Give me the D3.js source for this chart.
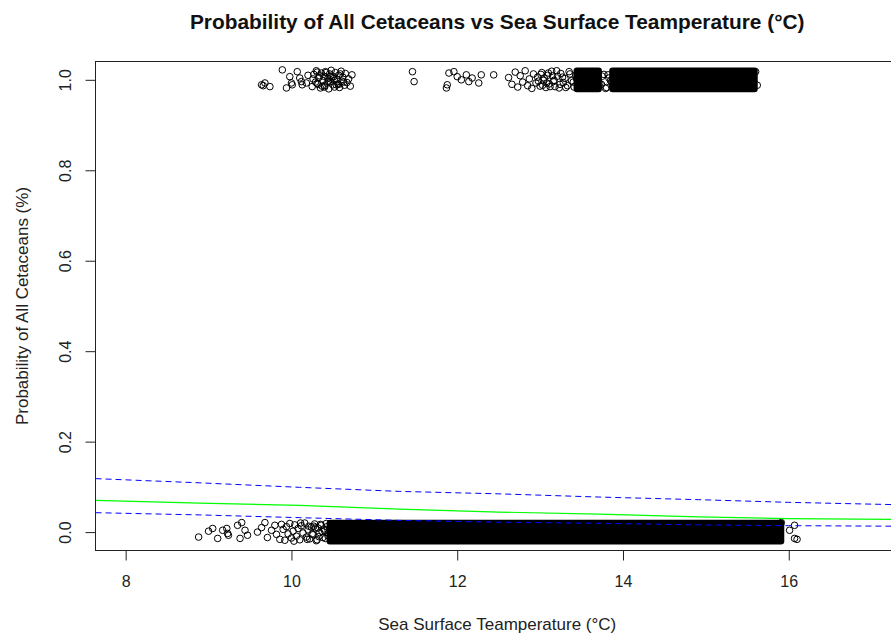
<!DOCTYPE html>
<html>
<head>
<meta charset="utf-8">
<script src="https://cdn.jsdelivr.net/npm/d3@7"></script>
<style>
  body { margin: 0; background: #fff; }
  text { font-family: "Liberation Sans", Arial, sans-serif; }
</style>
</head>
<body>
<div id="chart"></div>
<script>
// axis ticks
var sstTicks = [8, 10, 12, 14, 16];
var probTicks = [0, 0.2, 0.4, 0.6, 0.8, 1.0];

// sightings at 1 (presence), jittered values
var presenceSst = [9.64, 9.66, 9.68, 9.74,
  9.89, 9.94, 9.98, 10.00, 10.01, 10.07, 10.10, 10.12, 10.13, 10.18, 10.20,
  10.25, 10.27, 10.29, 10.30, 10.32, 10.33, 10.35, 10.36, 10.38, 10.39, 10.40, 10.41,
  10.43, 10.44, 10.45, 10.46, 10.47, 10.48, 10.50, 10.51, 10.52, 10.53, 10.55, 10.56,
  10.57, 10.58, 10.60, 10.61, 10.62, 10.64, 10.65, 10.67, 10.69, 10.71, 10.73,
  10.26, 10.31, 10.34, 10.37, 10.42, 10.45, 10.49, 10.54, 10.59, 10.63, 10.31, 10.40,
  10.47, 10.52, 10.57,
  11.46, 11.48,
  11.87, 11.88, 11.90, 11.96, 12.00, 12.05, 12.11, 12.14, 12.18, 12.26, 12.29, 12.44,
  12.62, 12.66, 12.70, 12.73, 12.76, 12.79, 12.82, 12.85, 12.87, 12.90, 12.92, 12.95,
  12.97, 13.00, 13.02, 13.04, 13.07, 13.09, 13.11, 13.14, 13.16, 13.18, 13.21, 13.23,
  13.25, 13.28, 13.30, 13.33, 13.35, 13.38, 13.41, 13.43,
  12.98, 13.01, 13.03, 13.05, 13.08, 13.10, 13.12, 13.15, 13.17, 13.20, 13.24, 13.27,
  13.31, 13.36, 13.40, 13.44, 13.47, 13.70, 13.72, 13.75, 13.79, 13.82, 13.85, 13.88,
  13.74, 13.77, 13.80, 13.83, 13.86, 15.60, 15.62];
var presenceProb = [0.989, 0.987, 0.993, 0.985,
  1.022, 0.982, 1.007, 0.993, 0.989, 1.018, 1.004, 0.996, 0.989, 0.993, 1.010,
  0.985, 1.012, 0.995, 1.020, 0.990, 1.005, 0.982, 1.015, 0.998, 1.008, 0.987, 1.018,
  0.993, 1.003, 0.980, 1.013, 0.996, 1.021, 0.989, 1.007, 0.984, 1.016, 1.000, 0.991,
  1.010, 0.983, 1.019, 0.997, 1.006, 0.988, 1.014, 0.994, 1.002, 0.986, 1.011,
  1.002, 0.992, 1.009, 0.986, 1.016, 0.997, 1.006, 0.989, 1.013, 0.995, 1.017, 0.984,
  1.008, 0.999, 0.990,
  1.018, 0.996,
  0.982, 0.989, 1.015, 1.018, 1.007, 1.000, 1.011, 0.996, 1.004, 0.993, 1.011, 1.011,
  1.005, 0.990, 1.017, 0.984, 1.009, 0.995, 1.020, 0.987, 1.002, 0.981, 1.013, 0.993,
  1.006, 0.986, 1.016, 0.999, 0.983, 1.010, 0.991, 1.019, 0.996, 0.985, 1.008, 0.982,
  1.014, 0.994, 1.003, 0.987, 1.018, 0.998, 0.984, 1.011,
  0.997, 1.012, 0.988, 1.004, 0.993, 1.015, 0.985, 1.009, 0.999, 1.020, 0.990, 1.006,
  0.983, 1.013, 0.995, 1.002, 0.987, 1.016, 0.992, 1.008, 0.981, 1.011, 0.998, 1.005,
  0.990, 1.012, 0.983, 1.004, 0.995, 1.018, 0.988];

// non-sightings at 0 (absence)
var absenceSst = [8.88, 9.00, 9.05, 9.11, 9.17, 9.22, 9.23, 9.24, 9.35, 9.38, 9.40, 9.44, 9.47,
  9.59, 9.64, 9.68, 9.71, 9.76, 9.80, 9.82, 9.86, 9.88,
  9.90, 9.92, 9.94, 9.96, 9.98, 10.00, 10.02, 10.04, 10.06, 10.08, 10.10, 10.12, 10.14,
  10.16, 10.18, 10.20, 10.22, 10.24, 10.26, 10.28, 10.30, 10.32, 10.34, 10.36, 10.38,
  10.40, 10.42, 10.44, 10.03, 10.11, 10.19, 10.27, 10.33, 10.39,
  10.21, 10.25, 10.29, 10.31, 10.35, 10.37, 10.41, 10.43, 10.45,
  15.91, 16.01, 16.07, 16.07, 16.10];
var absenceProb = [-0.011, 0.002, 0.008, -0.014, 0.004, 0.008, -0.003, -0.007, 0.015, -0.014, 0.021, 0.004, -0.007,
  0.000, 0.010, 0.021, -0.012, 0.004, 0.015, -0.005, -0.016, 0.017,
  0.006, -0.018, 0.012, -0.004, 0.019, -0.013, 0.002, 0.016, -0.009, 0.008, -0.017, 0.014,
  -0.002, 0.020, -0.011, 0.005, -0.015, 0.011, -0.006, 0.018, -0.019, 0.009, -0.001, 0.015,
  -0.012, 0.003, 0.019, -0.008, -0.020, 0.020, -0.016, 0.013, -0.010, 0.007,
  0.013, -0.004, 0.009, -0.017, 0.017, 0.001, -0.014, 0.012, -0.003,
  0.021, 0.004, 0.015, -0.014, -0.016];

// stretches where the circles overlap into a solid block
var denseFrom = [10.47, 13.45, 13.88];
var denseTo = [15.90, 13.70, 15.58];
var denseRow = [0, 1, 1];
var jitterHalf = 0.019;

// fitted model and 95% band
var curveSst = [7.637, 8.894, 10.097, 11.3, 12.5, 13.708, 14.912, 15.995, 17.33];
var fitProb = [0.0702, 0.0642, 0.0589, 0.0507, 0.0443, 0.0396, 0.0336, 0.0297, 0.0279];
var upperProb = [0.1182, 0.1089, 0.0990, 0.0900, 0.0846, 0.0775, 0.0717, 0.0658, 0.0605];
var lowerProb = [0.0429, 0.0380, 0.0319, 0.0259, 0.0219, 0.0195, 0.0159, 0.0142, 0.0130];

var width = 891, height = 635;
var plot = {left: 95.5, right: 899, top: 61.5, bottom: 550.5};
var r = 3.3;

var svg = d3.select("#chart").append("svg")
  .attr("width", width)
  .attr("height", height);

var x = d3.scaleLinear()
  .domain([7.636, 17.33])
  .range([plot.left, plot.right]);

var y = d3.scaleLinear()
  .domain([-0.0407, 1.0405])
  .range([plot.bottom, plot.top]);

svg.append("clipPath")
  .attr("id", "clip")
  .append("rect")
  .attr("x", plot.left)
  .attr("y", plot.top)
  .attr("width", plot.right - plot.left)
  .attr("height", plot.bottom - plot.top);

var inner = svg.append("g").attr("clip-path", "url(#clip)");

// solid blocks of overlapping points
inner.append("g")
  .selectAll("rect")
  .data(denseFrom)
  .enter()
  .append("rect")
  .attr("x", (d, i) => x(denseFrom[i]) - r - 0.5)
  .attr("width", (d, i) => x(denseTo[i]) - x(denseFrom[i]) + 2 * r + 1)
  .attr("y", (d, i) => y(denseRow[i] + jitterHalf) - r - 0.5)
  .attr("height", (d, i) => y(denseRow[i] - jitterHalf) - y(denseRow[i] + jitterHalf) + 2 * r + 1)
  .attr("rx", r)
  .style("fill", "black");

// open circles
var pts = presenceSst.map((s, i) => [s, presenceProb[i]])
  .concat(absenceSst.map((s, i) => [s, absenceProb[i]]));

inner.append("g")
  .selectAll("circle")
  .data(pts)
  .enter()
  .append("circle")
  .attr("cx", d => x(d[0]))
  .attr("cy", d => y(d[1]))
  .attr("r", r)
  .style("fill", "none")
  .style("stroke", "black")
  .style("stroke-width", 1);

// model lines
var line = d3.line()
  .x(d => x(d[0]))
  .y(d => y(d[1]));

function pairs(vals) {
  return curveSst.map((s, i) => [s, vals[i]]);
}

inner.append("path")
  .attr("d", line(pairs(fitProb)))
  .style("fill", "none")
  .style("stroke", "#00ff00")
  .style("stroke-width", 1.2);

[upperProb, lowerProb].forEach(function(vals) {
  inner.append("path")
    .attr("d", line(pairs(vals)))
    .style("fill", "none")
    .style("stroke", "#0000ff")
    .style("stroke-width", 1)
    .style("stroke-dasharray", "6,4");
});

// box
svg.append("rect")
  .attr("x", plot.left)
  .attr("y", plot.top)
  .attr("width", plot.right - plot.left)
  .attr("height", plot.bottom - plot.top)
  .style("fill", "none")
  .style("stroke", "#222")
  .style("stroke-width", 1);

// x axis
var xAxis = d3.axisBottom(x)
  .tickValues(sstTicks)
  .tickSize(10)
  .tickPadding(15)
  .tickFormat(d3.format("d"));

var gx = svg.append("g")
  .attr("transform", `translate(0, ${plot.bottom})`)
  .call(xAxis);
gx.select(".domain")
  .attr("d", `M${x(sstTicks[0])},0H${x(sstTicks[sstTicks.length - 1])}`)
  .style("stroke", "#222");
gx.selectAll(".tick line").style("stroke", "#222");
gx.selectAll("text")
  .style("font-size", "16px")
  .style("fill", "#222")
  .attr("font-family", null);

// y axis, labels turned like R does
var yAxis = d3.axisLeft(y)
  .tickValues(probTicks)
  .tickSize(10)
  .tickFormat(d3.format(".1f"));

var gy = svg.append("g")
  .attr("transform", `translate(${plot.left}, 0)`)
  .call(yAxis);
gy.select(".domain")
  .attr("d", `M0,${y(probTicks[0])}V${y(probTicks[probTicks.length - 1])}`)
  .style("stroke", "#222");
gy.selectAll(".tick line").style("stroke", "#222");
gy.selectAll("text")
  .attr("x", null)
  .attr("dy", null)
  .attr("transform", "translate(-24.5, 0) rotate(-90)")
  .attr("text-anchor", "middle")
  .attr("font-family", null)
  .style("font-size", "16px")
  .style("fill", "#222");

// titles
var title = svg.append("text")
  .attr("x", (plot.left + plot.right) / 2)
  .attr("y", 29)
  .attr("text-anchor", "middle")
  .style("font-weight", "bold")
  .style("font-size", "19px")
  .style("fill", "#111")
  .text("Probability of All Cetaceans vs Sea Surface Teamperature (°C)");

// fit title to the width it has in the source
var tw = title.node().getComputedTextLength();
title.style("font-size", (19 * 615 / tw).toFixed(2) + "px");

svg.append("text")
  .attr("x", (plot.left + plot.right) / 2)
  .attr("y", 630)
  .attr("text-anchor", "middle")
  .style("font-size", "17px")
  .style("fill", "#222")
  .text("Sea Surface Teamperature (°C)");

svg.append("text")
  .attr("transform", `translate(27.5, ${(plot.top + plot.bottom) / 2}) rotate(-90)`)
  .attr("text-anchor", "middle")
  .style("font-size", "17px")
  .style("fill", "#222")
  .text("Probability of All Cetaceans (%)");
</script>
</body>
</html>
